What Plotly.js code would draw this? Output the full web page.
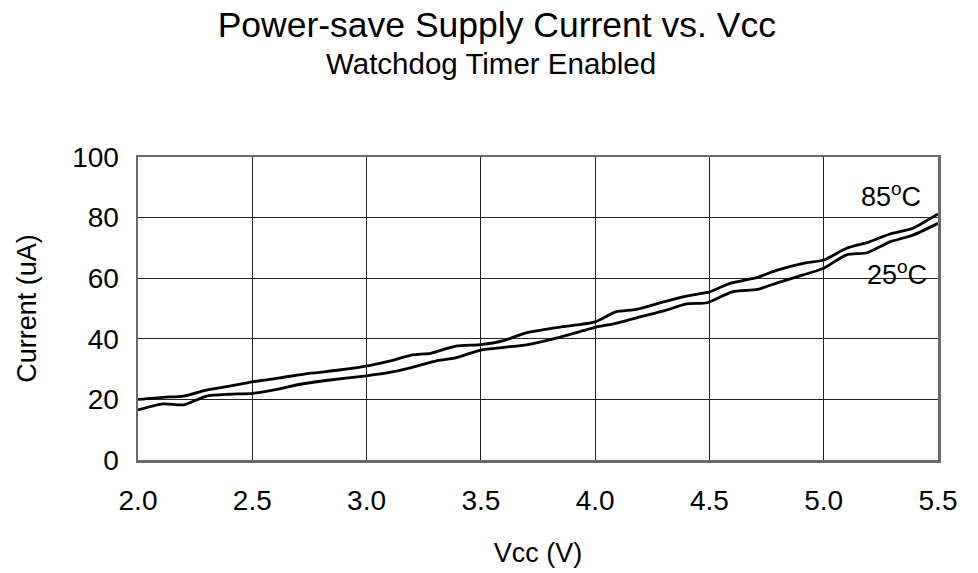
<!DOCTYPE html>
<html>
<head>
<meta charset="utf-8">
<script src="https://cdn.plot.ly/plotly-3.0.1.min.js"></script>
<style>
  html, body { margin: 0; padding: 0; background: #fff; }
  #chart { width: 978px; height: 573px; }
</style>
</head>
<body>
<div id="chart"></div>
<script>
// Supply current (uA) versus Vcc (V), power-save mode with watchdog timer enabled
const vcc85 = [2.0, 2.11, 2.2, 2.3, 2.4, 2.5, 2.62, 2.75, 2.88, 3.0, 3.1, 3.2, 3.28, 3.39, 3.5, 3.6, 3.69, 3.79, 3.86, 4.0, 4.09, 4.18, 4.3, 4.4, 4.5, 4.59, 4.71, 4.79, 4.91, 5.0, 5.1, 5.2, 5.29, 5.39, 5.5];
const cur85 = [20.0, 20.7, 21.1, 23.1, 24.4, 25.8, 27.1, 28.6, 29.7, 31.0, 32.6, 34.7, 35.2, 37.6, 38.1, 39.4, 41.8, 43.2, 44.0, 45.6, 48.9, 49.7, 52.2, 54.1, 55.5, 58.3, 60.3, 62.5, 64.9, 66.0, 69.9, 72.0, 74.6, 76.5, 81.2];

const vcc25 = [2.0, 2.11, 2.2, 2.3, 2.4, 2.5, 2.62, 2.71, 2.84, 3.0, 3.1, 3.2, 3.31, 3.39, 3.5, 3.6, 3.7, 3.83, 4.0, 4.09, 4.2, 4.3, 4.4, 4.49, 4.6, 4.71, 4.79, 4.91, 5.0, 5.1, 5.19, 5.29, 5.39, 5.5];
const cur25 = [16.5, 18.5, 18.2, 21.1, 21.7, 22.0, 23.5, 25.0, 26.4, 27.8, 28.9, 30.6, 32.8, 33.7, 36.3, 37.2, 38.0, 40.2, 43.8, 45.1, 47.3, 49.2, 51.5, 51.9, 55.5, 56.3, 58.3, 61.1, 63.3, 67.7, 68.4, 72.0, 74.2, 78.1];

const xTicks = [2.0, 2.5, 3.0, 3.5, 4.0, 4.5, 5.0, 5.5];
const xTickText = ['2.0', '2.5', '3.0', '3.5', '4.0', '4.5', '5.0', '5.5'];
const yTicks = [0, 20, 40, 60, 80, 100];

const FONT = '"Liberation Sans", Arial, Helvetica, sans-serif';

const lineStyle = { color: '#000', width: 2.8, shape: 'spline', smoothing: 0.6 };

const traces = [
  { x: vcc85, y: cur85, mode: 'lines', name: '85°C', line: lineStyle, hoverinfo: 'x+y' },
  { x: vcc25, y: cur25, mode: 'lines', name: '25°C', line: lineStyle, hoverinfo: 'x+y' }
];

const layout = {
  width: 978,
  height: 573,
  margin: { l: 138, r: 40, t: 157, b: 113 },
  paper_bgcolor: '#fff',
  plot_bgcolor: '#fff',
  showlegend: false,
  font: { family: FONT, color: '#000', size: 27 },
  title: {
    text: 'Power-save Supply Current vs. Vcc',
    font: { family: FONT, size: 35.5, color: '#000' },
    x: 0.508, xref: 'container', xanchor: 'center',
    y: 0.957, yref: 'container', yanchor: 'middle'
  },
  xaxis: {
    range: [2.0, 5.5],
    tickvals: xTicks,
    ticktext: xTickText,
    ticks: '',
    ticklabelstandoff: 14,
    tickfont: { family: FONT, size: 28, color: '#000' },
    showgrid: true, gridcolor: '#222', gridwidth: 1,
    zeroline: false,
    showline: true, linecolor: '#6a6a6a', linewidth: 2.5, mirror: true,
    title: { text: 'Vcc (V)', font: { family: FONT, size: 27, color: '#000' }, standoff: 28 }
  },
  yaxis: {
    range: [0, 100],
    tickvals: yTicks,
    ticks: '',
    ticklabelstandoff: 11,
    tickfont: { family: FONT, size: 28, color: '#000' },
    showgrid: true, gridcolor: '#222', gridwidth: 1,
    zeroline: false,
    showline: true, linecolor: '#6a6a6a', linewidth: 2.5, mirror: true,
    title: { text: 'Current (uA)', font: { family: FONT, size: 27, color: '#000' }, standoff: 28 }
  },
  annotations: [
    {
      text: 'Watchdog Timer Enabled',
      xref: 'paper', yref: 'paper',
      x: 0.441, y: 1.31, xanchor: 'center', yanchor: 'middle',
      showarrow: false,
      font: { family: FONT, size: 29.5, color: '#000' }
    },
    {
      text: '85<sup>o</sup>C',
      xref: 'x', yref: 'y',
      x: 5.295, y: 87.5, xanchor: 'center', yanchor: 'middle',
      showarrow: false,
      font: { family: FONT, size: 27, color: '#000' }
    },
    {
      text: '25<sup>o</sup>C',
      xref: 'x', yref: 'y',
      x: 5.32, y: 61.6, xanchor: 'center', yanchor: 'middle',
      showarrow: false,
      font: { family: FONT, size: 27, color: '#000' }
    }
  ]
};

Plotly.newPlot('chart', traces, layout, { displayModeBar: false, staticPlot: true });
</script>
</body>
</html>
